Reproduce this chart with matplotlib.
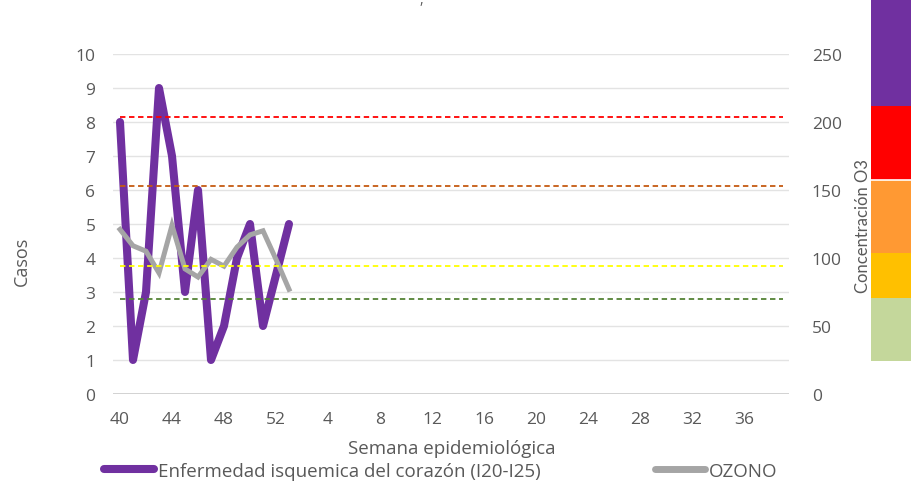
import matplotlib
matplotlib.use("Agg")
import matplotlib.pyplot as plt
from matplotlib.lines import Line2D

plt.rcParams['font.family'] = ['Open Sans', 'DejaVu Sans']

# ---- data ----
weeks = list(range(40, 53)) + list(range(1, 40))
casos = [8, 1, 3, 9, 7, 3, 6, 1, 2, 4, 5, 2, 3.5, 5]
ozono = [121, 109, 105, 89, 124, 92, 86, 99, 94, 108, 117, 120, 99, 77]
umbral_valores = [204, 153, 94, 70]
umbral_colores = ['#FF0000', '#C55A11', '#FFFF00', '#548235']
bandas_lim = [24, 70.6, 104, 157, 212, 291]
bandas_col = ['#C4D79B', '#FFC000', '#FF9933', '#FF0000', '#7030A0']
left_ticks = list(range(0, 11))
right_ticks = [0, 50, 100, 150, 200, 250]

TXT = '#595959'
FS = 12.5
W, H = 912, 489
fig = plt.figure(figsize=(W / 100, H / 100), dpi=100)

ax = fig.add_axes([113.5 / W, (H - 395) / H, (789.5 - 113.5) / W, 340 / H])
ax2 = ax.twinx()

x_idx = list(range(len(weeks)))
ax.plot(x_idx[:len(casos)], casos, color='#7030A0', lw=5.8, solid_joinstyle='round',
        solid_capstyle='round', zorder=3)
ax2.plot(x_idx[:len(ozono)], ozono, color='#A5A5A5', lw=3.6, solid_joinstyle='miter',
         zorder=3)
for v, c in zip(umbral_valores, umbral_colores):
    ax2.plot(x_idx, [v] * len(x_idx), color=c, lw=1.3, ls=(0, (3, 2)), zorder=4)

ax.set_xlim(-0.5, len(weeks) - 0.5)
ax.set_ylim(0, 10)
ax2.set_ylim(0, 250)
ax.set_yticks(left_ticks)
ax2.set_yticks(right_ticks)
ax.set_xticks(x_idx[::4])
ax.set_xticklabels([str(w) for w in weeks[::4]])

ax.grid(axis='y', color='#E3E3E3', lw=1.0)
ax.set_axisbelow(True)
for a in (ax, ax2):
    for s in a.spines.values():
        s.set_visible(False)
ax.axhline(0, color='#D0D0D0', lw=1.3, zorder=1)

ax.tick_params(axis='both', length=0, labelsize=FS, labelcolor=TXT)
ax.tick_params(axis='y', pad=13)
ax.tick_params(axis='x', pad=12)
ax2.tick_params(axis='y', length=0, labelsize=FS, labelcolor=TXT, pad=16)

ax.set_ylabel('Casos', fontsize=13, color=TXT)
ax.yaxis.set_label_coords(-0.122, 0.394)
ax.set_xlabel('Semana epidemiológica', fontsize=13.5, color=TXT, labelpad=9)

# colour band
bax = fig.add_axes([871 / W, (H - 395) / H, 41 / W, 395 / H])
bax.set_xlim(0, 1)
bax.set_ylim(0, 395 / 1.36)
for i, c in enumerate(bandas_col):
    bax.bar(0.5, bandas_lim[i + 1] - bandas_lim[i], bottom=bandas_lim[i], width=1.0,
            color=c, lw=0)
bax.axhline(157, color='white', lw=1.2)
bax.axis('off')

fig.text(863 / W, (H - 226) / H, 'Concentración O3', rotation=90, ha='center',
         va='center', fontsize=12, color=TXT, zorder=10, family=['Lato', 'DejaVu Sans'])

fig.text(421 / W, 1.0, ',', ha='center', va='center', fontsize=10, color=TXT)

handles = [Line2D([], [], color='#7030A0', lw=5.8, solid_capstyle='round'),
           Line2D([], [], color='#A5A5A5', lw=5.0, solid_capstyle='round')]
fig.legend(handles, ['Enfermedad isquemica del corazón (I20-I25)', 'OZONO'],
           loc='center left', bbox_to_anchor=(104 / W, (H - 472) / H), ncol=2,
           frameon=False, fontsize=13.5, labelcolor=TXT, handlelength=2.67,
           handletextpad=0.2, columnspacing=6.1, borderpad=0, borderaxespad=0)

fig.savefig('out.png', dpi=100)
